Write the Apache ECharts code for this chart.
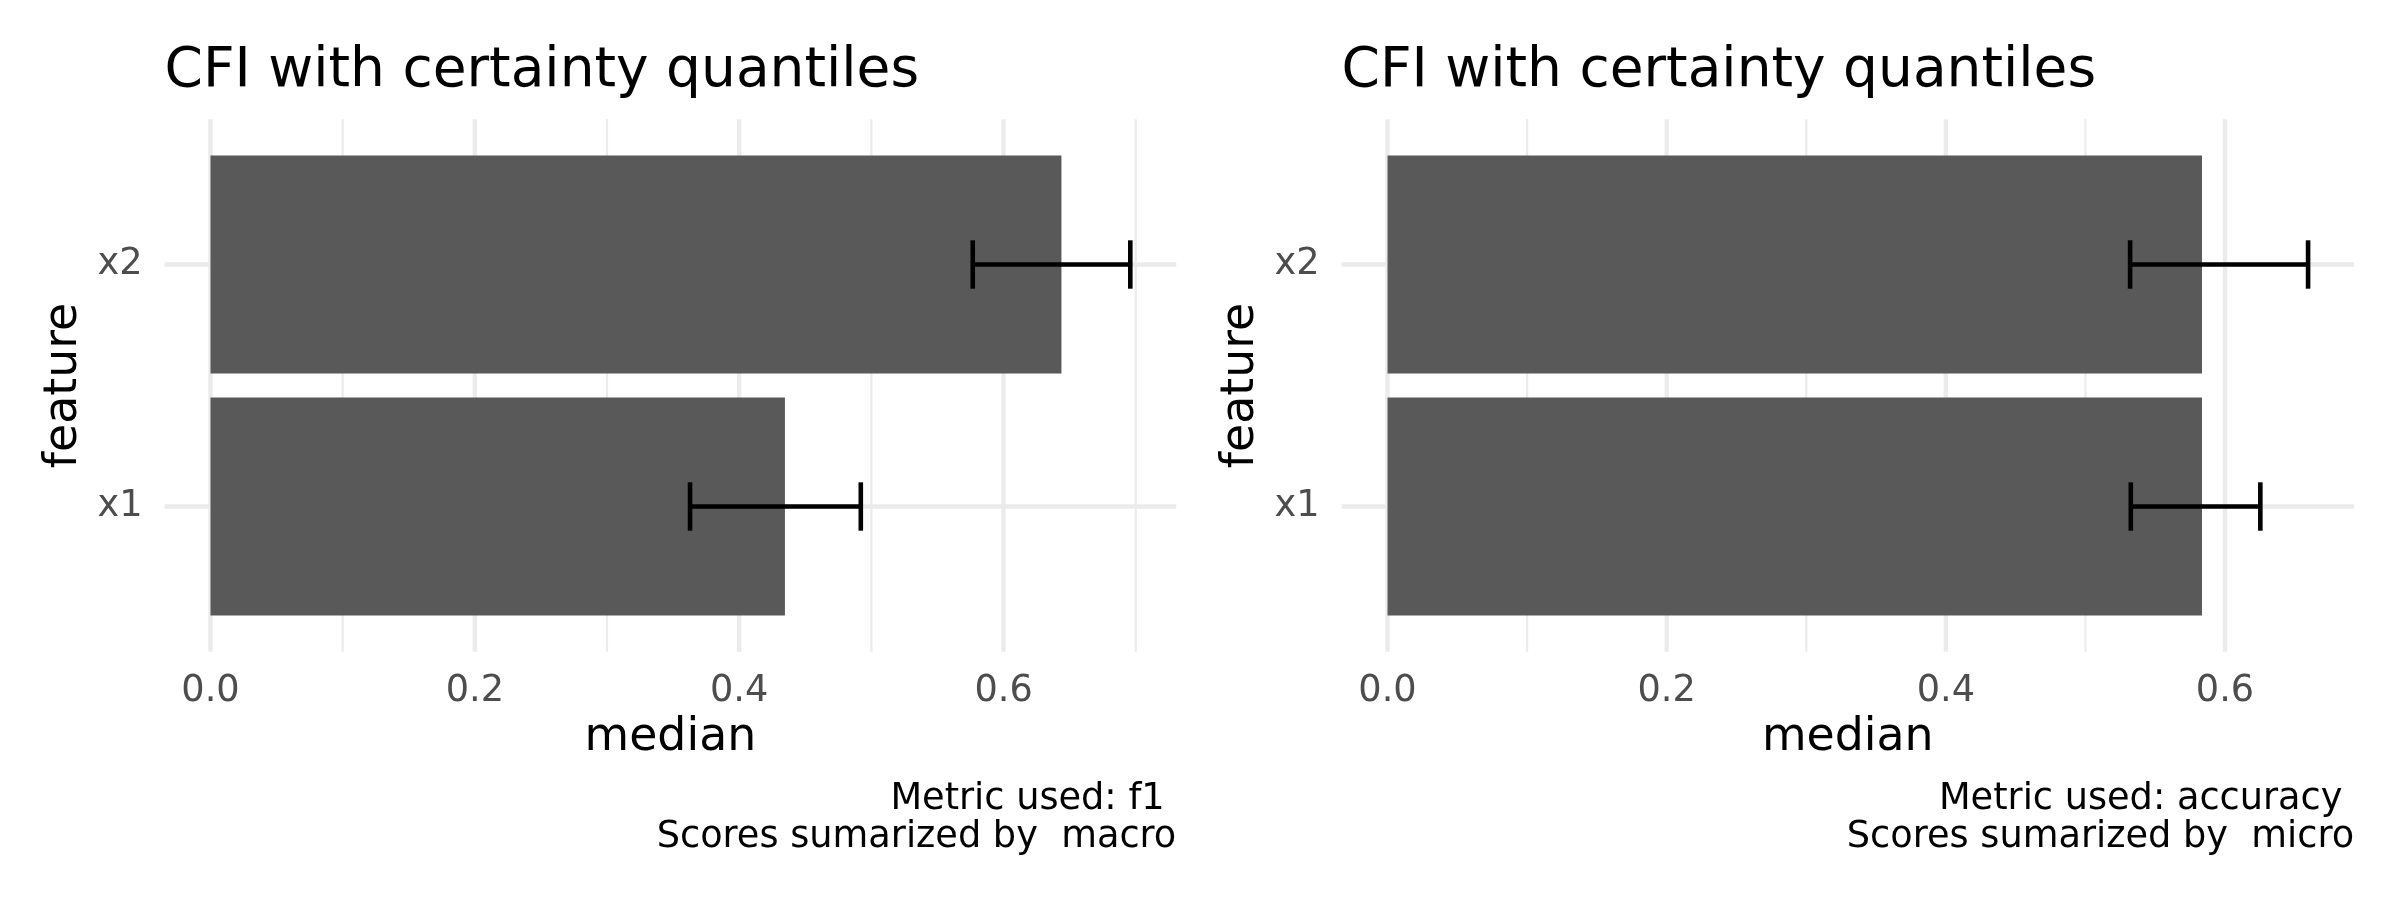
<!DOCTYPE html>
<html>
<head>
<meta charset="utf-8">
<script src="https://cdn.jsdelivr.net/npm/echarts@6/dist/echarts.min.js"></script>
<style>
html,body{margin:0;padding:0;background:#fff;}
#chart{width:2400px;height:900px;}
</style>
</head>
<body>
<div id="chart"></div>
<script>
// ---- data ----
const categories = ['x1', 'x2'];
const leftMedian = [0.4346, 0.6438];
const leftLower  = [0.3628, 0.5767];
const leftUpper  = [0.4920, 0.6959];
const rightMedian = [0.5835, 0.5835];
const rightLower  = [0.5325, 0.5320];
const rightUpper  = [0.6253, 0.6595];
const xMajorTicks = [0, 0.2, 0.4, 0.6];
const xMinorTicks = [0.1, 0.3, 0.5, 0.7];
const titleText = 'CFI with certainty quantiles';
const xName = 'median';
const yName = 'feature';
const leftCaption = 'Metric used: f1 \nScores sumarized by  macro';
const rightCaption = 'Metric used: accuracy \nScores sumarized by  micro';

// ---- layout / style ----
const FONT = 'DejaVu Sans';
const PANEL_TOP = 119.3, PANEL_H = 532.4;
const panels = [
  {left: 164.5, width: 1011.8, med: leftMedian, lo: leftLower, hi: leftUpper, caption: leftCaption},
  {left: 1341.5, width: 1012.6, med: rightMedian, lo: rightLower, hi: rightUpper, caption: rightCaption}
];
const Y_MIN = 0.4, Y_MAX = 2.6;   // discrete scale with 0.6 expansion
const BAR_HALF = 0.45, CAP_HALF = 0.1;

const grids = [], xAxes = [], yAxes = [], series = [], graphics = [];

panels.forEach((p, k) => {
  const maxU = Math.max.apply(null, p.hi);
  const xmin = -0.05 * maxU, xmax = 1.05 * maxU;
  grids.push({left: p.left, top: PANEL_TOP, width: p.width, height: PANEL_H, containLabel: false});
  xAxes.push({
    gridIndex: k, type: 'value', min: xmin, max: xmax,
    axisLine: {show: false}, axisTick: {show: false}, splitLine: {show: false},
    axisLabel: {
      customValues: xMajorTicks, formatter: v => Number(v).toFixed(1),
      fontFamily: FONT, fontSize: 36.7, color: '#4D4D4D', margin: 21, lineHeight: 36.7
    }
  });
  yAxes.push({
    gridIndex: k, type: 'value', min: Y_MIN, max: Y_MAX,
    axisLine: {show: false}, axisTick: {show: false}, splitLine: {show: false},
    axisLabel: {
      customValues: [1, 2], formatter: v => categories[Math.round(v) - 1] || '',
      fontFamily: FONT, fontSize: 36.7, color: '#4D4D4D', margin: 22
    }
  });

  // grid lines (minor, major vertical; horizontal at categories)
  const gl = [];
  xMinorTicks.filter(v => v > xmin && v < xmax).forEach(v => gl.push([v, 0]));
  xMajorTicks.filter(v => v >= xmin && v <= xmax).forEach(v => gl.push([v, 1]));
  categories.forEach((c, i) => gl.push([i + 1, 2]));
  series.push({
    type: 'custom', xAxisIndex: k, yAxisIndex: k, silent: true, z: 1,
    data: gl,
    renderItem: function (params, api) {
      const v = api.value(0), kind = api.value(1);
      let a, b;
      if (kind === 2) { a = api.coord([xmin, v]); b = api.coord([xmax, v]); }
      else { a = api.coord([v, Y_MIN]); b = api.coord([v, Y_MAX]); }
      return {type: 'line', shape: {x1: a[0], y1: a[1], x2: b[0], y2: b[1]},
        style: {stroke: '#EBEBEB', lineWidth: kind === 0 ? 2.2 : 4.4}};
    }
  });

  // bars
  series.push({
    type: 'custom', xAxisIndex: k, yAxisIndex: k, silent: true, z: 2,
    data: p.med.map((m, i) => [m, i + 1]),
    encode: {x: 0, y: 1},
    renderItem: function (params, api) {
      const m = api.value(0), y = api.value(1);
      const a = api.coord([0, y + BAR_HALF]);
      const b = api.coord([m, y - BAR_HALF]);
      return {type: 'rect', shape: {x: a[0], y: a[1], width: b[0] - a[0], height: b[1] - a[1]},
        style: {fill: '#595959'}};
    }
  });

  // error bars
  series.push({
    type: 'custom', xAxisIndex: k, yAxisIndex: k, silent: true, z: 3,
    data: p.lo.map((l, i) => [l, p.hi[i], i + 1]),
    encode: {x: [0, 1], y: 2},
    renderItem: function (params, api) {
      const l = api.value(0), h = api.value(1), y = api.value(2);
      const c1 = api.coord([l, y]), c2 = api.coord([h, y]);
      const t = api.coord([l, y + CAP_HALF])[1], bt = api.coord([l, y - CAP_HALF])[1];
      const st = {stroke: '#000', lineWidth: 4.6, lineCap: 'butt'};
      return {type: 'group', children: [
        {type: 'line', shape: {x1: c1[0], y1: c1[1], x2: c2[0], y2: c2[1]}, style: st},
        {type: 'line', shape: {x1: c1[0], y1: t, x2: c1[0], y2: bt}, style: st},
        {type: 'line', shape: {x1: c2[0], y1: t, x2: c2[0], y2: bt}, style: st}
      ]};
    }
  });

  // texts
  graphics.push({type: 'text', x: p.left, y: 71.5, silent: true,
    style: {text: titleText, fontFamily: FONT, fontSize: 55, fill: '#000', align: 'left', verticalAlign: 'middle'}});
  graphics.push({type: 'text', x: p.left + p.width / 2, y: 738.4, silent: true,
    style: {text: xName, fontFamily: FONT, fontSize: 45.8, fill: '#000', align: 'center', verticalAlign: 'middle'}});
  graphics.push({type: 'text', x: p.left - 100, y: PANEL_TOP + PANEL_H / 2, rotation: Math.PI / 2, silent: true,
    style: {text: yName, fontFamily: FONT, fontSize: 45.8, fill: '#000', align: 'center', verticalAlign: 'middle'}});
  graphics.push({type: 'text', x: p.left + p.width, y: 779.6, silent: true,
    style: {text: p.caption, fontFamily: FONT, fontSize: 36.7, lineHeight: 38.9, fill: '#000', align: 'right', verticalAlign: 'top'}});
});

const chart = echarts.init(document.getElementById('chart'), null, {renderer: 'canvas'});
chart.setOption({
  animation: false,
  backgroundColor: '#fff',
  grid: grids, xAxis: xAxes, yAxis: yAxes, series: series, graphic: graphics
});
</script>
</body>
</html>
